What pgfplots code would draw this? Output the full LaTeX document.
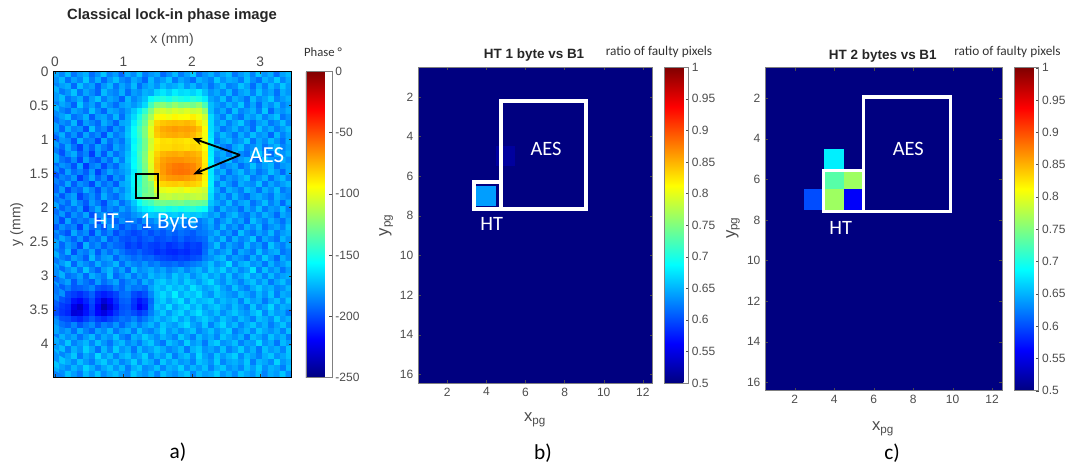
\documentclass[border=0pt]{standalone}
\usepackage{pgfplots}
\pgfplotsset{compat=1.18}
\usetikzlibrary{arrows.meta}
\usepackage{fontspec}
\setmainfont{Liberation Sans}
\newfontfamily\calibri{Carlito}
\definecolor{tl}{gray}{0.3}
\definecolor{al}{gray}{0.5}
\pgfplotsset{
  every axis title shift=0pt,
  common/.style={
    scale only axis, anchor=south west, colormap/jet, y dir=reverse,
    tick align=inside, major tick length=2.2pt,
    /pgf/number format/assume math mode=true,
    tick label style={font=\fontsize{9}{10}\selectfont, text=tl},
    label style={font=\fontsize{12.5}{14}\selectfont, text=tl},
    title style={font=\bfseries\fontsize{10.1}{12}\selectfont, text=black!85, anchor=center},
    yticklabel style={/pgf/number format/fixed},
    xtick pos=both, ytick pos=both,
    enlargelimits=false, axis on top,
  },
  cbar/.style={
    at={(parent axis.north east)}, anchor=north west,
    xshift=#1, tick align=inside, ytick pos=right, yticklabel pos=right,
    major tick length=2pt, axis line style={draw=al}, ytick style={draw=black!70},
    /pgf/number format/assume math mode=true,
    yticklabel style={font=\fontsize{9}{10}\selectfont, text=tl, xshift=-1pt,
      /pgf/number format/fixed, /pgf/number format/precision=2},
  },
}
\begin{document}
\begin{tikzpicture}
\useasboundingbox (0pt,0pt) rectangle (800.25pt,349.5pt);
\begin{axis}[common,
  at={(40pt,66.5pt)}, width=178.8pt, height=229.5pt,
  xmin=-0.025, xmax=3.46, ymin=0, ymax=4.49,
  xtick={0,1,2,3}, ytick={0,0.5,1,1.5,2,2.5,3,3.5,4},
  xticklabel pos=upper,
  axis background/.style={fill={rgb,255:red,0;green,130;blue,255}},
  axis line style={draw=black}, tick style={draw=black!80},
  tick label style={font=\fontsize{10.3}{12}\selectfont},
  title={Classical lock-in phase image},
  title style={at={(axis description cs:0.498,1.181)},font=\bfseries\fontsize{11.1}{13}\selectfont},
  xlabel={x (mm)}, ylabel={y (mm)},
  xlabel style={at={(axis description cs:0.498,1.103)},anchor=center,font=\fontsize{10.5}{12}\selectfont},
  ylabel style={at={(axis description cs:-0.1535,0.5)},anchor=center,font=\fontsize{10.5}{12}\selectfont},
  colorbar, point meta min=-250, point meta max=0,
  colorbar style={cbar=2pt, width=19.7pt, ytick={-250,-200,-150,-100,-50,0}},
]
\addplot[matrix plot*, mesh/cols=40, point meta=\thisrowno{0}] table[row sep=crcr, header=false,
  x expr={(mod(\coordindex,40)+0.5)*0.087125-0.025}, y expr={(floor(\coordindex/40)+0.5)*0.0898}] {
-178\\-186\\-172\\-190\\-181\\-175\\-192\\-183\\-170\\-187\\-180\\-194\\-176\\-185\\-171\\-189\\-182\\-177\\-193\\-184\\-173\\-188\\-179\\-169\\-191\\-182\\-175\\-186\\-178\\-172\\-190\\-181\\-174\\-187\\-170\\-183\\-176\\-192\\-179\\-173\\
-183\\-174\\-191\\-179\\-186\\-170\\-188\\-176\\-193\\-181\\-172\\-185\\-190\\-177\\-183\\-194\\-174\\-186\\-180\\-171\\-189\\-178\\-184\\-192\\-175\\-181\\-187\\-170\\-183\\-176\\-179\\-188\\-172\\-184\\-191\\-175\\-182\\-169\\-186\\-177\\
-187\\-180\\-176\\-193\\-172\\-184\\-179\\-195\\-182\\-174\\-190\\-178\\-186\\-173\\-192\\-181\\-175\\-183\\-172\\-179\\-176\\-170\\-182\\-174\\-185\\-178\\-190\\-181\\-173\\-187\\-184\\-171\\-179\\-192\\-176\\-188\\-174\\-183\\-170\\-181\\
-175\\-189\\-182\\-171\\-190\\-178\\-185\\-194\\-173\\-183\\-187\\-176\\-192\\-180\\-184\\-175\\-178\\-166\\-162\\-168\\-160\\-165\\-163\\-167\\-161\\-172\\-183\\-177\\-186\\-174\\-190\\-180\\-175\\-187\\-172\\-184\\-178\\-191\\-176\\-182\\
-181\\-172\\-190\\-184\\-176\\-193\\-180\\-171\\-188\\-178\\-183\\-195\\-174\\-186\\-179\\-172\\-155\\-150\\-148\\-152\\-146\\-150\\-153\\-147\\-151\\-160\\-178\\-184\\-172\\-189\\-176\\-182\\-191\\-173\\-185\\-179\\-170\\-187\\-181\\-175\\
-188\\-177\\-183\\-195\\-170\\-186\\-179\\-191\\-175\\-184\\-192\\-180\\-176\\-182\\-175\\-165\\-140\\-125\\-122\\-127\\-120\\-126\\-124\\-128\\-122\\-138\\-172\\-180\\-186\\-175\\-183\\-170\\-189\\-178\\-192\\-176\\-184\\-173\\-187\\-180\\
-174\\-186\\-192\\-178\\-183\\-190\\-172\\-185\\-194\\-177\\-181\\-188\\-180\\-170\\-160\\-145\\-125\\-107\\-104\\-108\\-103\\-106\\-102\\-107\\-105\\-120\\-172\\-185\\-177\\-190\\-172\\-186\\-181\\-175\\-188\\-170\\-193\\-179\\-183\\-176\\
-185\\-179\\-172\\-191\\-186\\-175\\-196\\-181\\-178\\-189\\-174\\-192\\-176\\-165\\-150\\-135\\-115\\-96\\-93\\-97\\-92\\-95\\-94\\-90\\-97\\-106\\-165\\-179\\-188\\-172\\-184\\-191\\-176\\-182\\-173\\-187\\-178\\-171\\-190\\-183\\
-191\\-183\\-188\\-174\\-197\\-180\\-186\\-193\\-176\\-184\\-195\\-178\\-175\\-160\\-145\\-130\\-105\\-84\\-80\\-78\\-77\\-78\\-76\\-79\\-88\\-100\\-165\\-182\\-174\\-187\\-178\\-170\\-185\\-192\\-180\\-175\\-189\\-183\\-172\\-186\\
-179\\-194\\-176\\-187\\-183\\-199\\-172\\-190\\-185\\-197\\-181\\-188\\-172\\-155\\-140\\-125\\-100\\-79\\-73\\-71\\-69\\-71\\-70\\-72\\-78\\-95\\-165\\-177\\-190\\-183\\-175\\-187\\-179\\-192\\-171\\-184\\-176\\-188\\-181\\-173\\
-186\\-175\\-192\\-182\\-196\\-178\\-191\\-184\\-199\\-176\\-189\\-183\\-170\\-155\\-142\\-125\\-101\\-81\\-76\\-74\\-73\\-75\\-73\\-76\\-83\\-96\\-163\\-184\\-173\\-181\\-190\\-176\\-186\\-172\\-183\\-179\\-194\\-174\\-187\\-178\\
-195\\-181\\-184\\-198\\-175\\-189\\-186\\-201\\-177\\-192\\-183\\-190\\-174\\-158\\-145\\-128\\-106\\-90\\-86\\-87\\-85\\-86\\-88\\-86\\-89\\-98\\-160\\-188\\-179\\-174\\-186\\-181\\-170\\-190\\-177\\-185\\-173\\-182\\-191\\-176\\
-180\\-193\\-177\\-190\\-202\\-183\\-195\\-179\\-188\\-196\\-178\\-186\\-176\\-155\\-143\\-128\\-104\\-88\\-85\\-85\\-83\\-84\\-86\\-83\\-85\\-95\\-162\\-175\\-186\\-192\\-178\\-172\\-188\\-183\\-176\\-190\\-181\\-174\\-186\\-179\\
-188\\-199\\-183\\-176\\-194\\-186\\-204\\-181\\-197\\-178\\-192\\-184\\-172\\-158\\-140\\-125\\-100\\-83\\-76\\-74\\-73\\-75\\-72\\-74\\-77\\-90\\-160\\-181\\-176\\-188\\-173\\-185\\-191\\-178\\-170\\-184\\-192\\-177\\-183\\-175\\
-176\\-190\\-196\\-184\\-201\\-179\\-192\\-198\\-183\\-193\\-175\\-188\\-170\\-157\\-142\\-124\\-100\\-79\\-71\\-68\\-67\\-67\\-69\\-70\\-73\\-90\\-158\\-186\\-179\\-172\\-189\\-181\\-175\\-187\\-193\\-172\\-180\\-186\\-176\\-184\\
-193\\-182\\-187\\-199\\-178\\-205\\-188\\-183\\-200\\-186\\-194\\-179\\-174\\-156\\-143\\-126\\-102\\-77\\-69\\-64\\-61\\-60\\-62\\-64\\-71\\-88\\-160\\-174\\-188\\-182\\-177\\-192\\-184\\-171\\-186\\-179\\-174\\-190\\-182\\-178\\
-184\\-197\\-179\\-192\\-186\\-196\\-181\\-203\\-189\\-178\\-187\\-182\\-176\\-160\\-145\\-128\\-104\\-79\\-69\\-63\\-60\\-59\\-60\\-63\\-71\\-90\\-162\\-183\\-175\\-191\\-180\\-173\\-186\\-178\\-190\\-184\\-172\\-181\\-193\\-177\\
-199\\-186\\-191\\-181\\-204\\-190\\-177\\-194\\-184\\-200\\-182\\-189\\-172\\-158\\-148\\-130\\-110\\-85\\-73\\-69\\-68\\-67\\-69\\-72\\-77\\-92\\-161\\-176\\-190\\-180\\-186\\-178\\-171\\-189\\-183\\-175\\-191\\-179\\-173\\-187\\
-187\\-193\\-178\\-196\\-183\\-189\\-201\\-180\\-192\\-185\\-197\\-178\\-174\\-158\\-146\\-130\\-122\\-92\\-84\\-82\\-81\\-83\\-80\\-82\\-85\\-96\\-160\\-187\\-174\\-183\\-192\\-176\\-182\\-185\\-172\\-190\\-178\\-186\\-180\\-174\\
-194\\-180\\-200\\-188\\-193\\-176\\-186\\-199\\-182\\-190\\-178\\-186\\-175\\-160\\-143\\-132\\-124\\-102\\-100\\-98\\-99\\-101\\-97\\-100\\-102\\-106\\-162\\-178\\-191\\-175\\-181\\-188\\-173\\-179\\-191\\-176\\-184\\-172\\-189\\-183\\
-182\\-198\\-185\\-179\\-202\\-191\\-183\\-195\\-176\\-188\\-193\\-181\\-172\\-162\\-146\\-128\\-126\\-112\\-110\\-108\\-111\\-109\\-112\\-110\\-108\\-112\\-165\\-184\\-177\\-189\\-174\\-186\\-192\\-180\\-176\\-183\\-190\\-175\\-181\\-186\\
-190\\-184\\-193\\-176\\-187\\-197\\-180\\-189\\-200\\-183\\-177\\-192\\-182\\-170\\-155\\-145\\-140\\-131\\-128\\-130\\-129\\-127\\-132\\-128\\-130\\-133\\-170\\-178\\-186\\-173\\-188\\-179\\-175\\-191\\-183\\-172\\-187\\-178\\-193\\-176\\
-178\\-195\\-186\\-192\\-181\\-203\\-188\\-176\\-194\\-185\\-191\\-179\\-187\\-176\\-166\\-160\\-156\\-150\\-148\\-152\\-149\\-153\\-150\\-147\\-151\\-155\\-176\\-190\\-175\\-184\\-181\\-192\\-177\\-186\\-173\\-189\\-180\\-184\\-172\\-188\\
-192\\-181\\-197\\-183\\-190\\-178\\-199\\-186\\-182\\-196\\-180\\-188\\-190\\-183\\-178\\-172\\-169\\-171\\-166\\-170\\-168\\-172\\-167\\-171\\-169\\-174\\-182\\-176\\-189\\-179\\-173\\-185\\-190\\-178\\-187\\-175\\-182\\-193\\-177\\-183\\
-185\\-200\\-178\\-194\\-187\\-192\\-182\\-201\\-176\\-189\\-195\\-184\\-192\\-187\\-194\\-182\\-186\\-179\\-188\\-176\\-184\\-180\\-186\\-177\\-189\\-183\\-175\\-191\\-182\\-174\\-186\\-179\\-193\\-172\\-181\\-188\\-176\\-184\\-191\\-178\\
-197\\-183\\-191\\-186\\-203\\-179\\-193\\-188\\-198\\-181\\-187\\-199\\-190\\-195\\-186\\-198\\-191\\-188\\-193\\-185\\-190\\-187\\-192\\-184\\-191\\-186\\-178\\-189\\-173\\-187\\-180\\-191\\-176\\-185\\-174\\-192\\-183\\-178\\-187\\-172\\
-183\\-192\\-199\\-177\\-190\\-184\\-201\\-180\\-194\\-186\\-200\\-192\\-197\\-202\\-199\\-193\\-200\\-194\\-198\\-192\\-196\\-191\\-194\\-197\\-190\\-188\\-183\\-175\\-188\\-181\\-193\\-172\\-184\\-190\\-179\\-186\\-174\\-189\\-181\\-176\\
-190\\-177\\-186\\-195\\-182\\-198\\-187\\-192\\-178\\-197\\-189\\-198\\-200\\-196\\-202\\-197\\-194\\-201\\-199\\-196\\-200\\-194\\-200\\-198\\-195\\-192\\-178\\-186\\-173\\-191\\-176\\-187\\-182\\-170\\-193\\-178\\-185\\-191\\-174\\-183\\
-179\\-194\\-181\\-188\\-201\\-175\\-190\\-184\\-196\\-187\\-193\\-195\\-204\\-200\\-205\\-199\\-203\\-205\\-201\\-207\\-204\\-200\\-206\\-202\\-204\\-194\\-184\\-172\\-189\\-178\\-185\\-190\\-174\\-186\\-180\\-192\\-171\\-182\\-188\\-177\\
-186\\-191\\-175\\-199\\-184\\-189\\-178\\-197\\-183\\-192\\-182\\-190\\-197\\-199\\-194\\-200\\-202\\-208\\-205\\-209\\-210\\-207\\-209\\-204\\-205\\-192\\-178\\-187\\-181\\-174\\-192\\-177\\-183\\-189\\-172\\-186\\-179\\-175\\-190\\-184\\
-175\\-188\\-193\\-180\\-186\\-196\\-173\\-190\\-181\\-178\\-195\\-184\\-188\\-193\\-189\\-195\\-193\\-199\\-201\\-203\\-205\\-202\\-204\\-200\\-198\\-188\\-183\\-176\\-172\\-188\\-179\\-184\\-191\\-175\\-187\\-170\\-182\\-193\\-176\\-185\\
-189\\-181\\-172\\-194\\-178\\-185\\-191\\-176\\-187\\-183\\-174\\-192\\-180\\-186\\-189\\-182\\-190\\-186\\-193\\-194\\-191\\-196\\-192\\-189\\-186\\-180\\-172\\-184\\-179\\-165\\-187\\-176\\-172\\-183\\-178\\-190\\-175\\-186\\-181\\-173\\
-178\\-193\\-184\\-176\\-190\\-171\\-186\\-195\\-180\\-174\\-188\\-179\\-194\\-173\\-185\\-181\\-176\\-184\\-178\\-187\\-182\\-176\\-186\\-179\\-174\\-183\\-170\\-177\\-168\\-182\\-174\\-185\\-179\\-163\\-188\\-172\\-184\\-177\\-190\\-180\\
-184\\-175\\-191\\-187\\-179\\-194\\-176\\-183\\-189\\-172\\-193\\-185\\-177\\-190\\-180\\-186\\-173\\-179\\-175\\-182\\-170\\-178\\-172\\-184\\-176\\-169\\-180\\-174\\-183\\-171\\-186\\-178\\-170\\-181\\-175\\-187\\-173\\-185\\-179\\-176\\
-192\\-186\\-179\\-197\\-183\\-190\\-196\\-180\\-192\\-185\\-178\\-194\\-186\\-181\\-191\\-176\\-184\\-172\\-168\\-176\\-171\\-179\\-168\\-174\\-181\\-172\\-165\\-178\\-184\\-173\\-179\\-187\\-176\\-171\\-183\\-174\\-189\\-178\\-172\\-184\\
-181\\-196\\-188\\-197\\-195\\-191\\-185\\-198\\-200\\-197\\-187\\-194\\-183\\-190\\-188\\-193\\-179\\-170\\-175\\-166\\-174\\-169\\-177\\-163\\-172\\-180\\-175\\-168\\-179\\-186\\-171\\-182\\-188\\-177\\-169\\-180\\-175\\-186\\-183\\-174\\
-190\\-183\\-200\\-204\\-208\\-202\\-195\\-208\\-212\\-208\\-202\\-192\\-190\\-200\\-204\\-199\\-186\\-172\\-165\\-173\\-160\\-176\\-168\\-172\\-164\\-177\\-183\\-170\\-176\\-181\\-185\\-173\\-179\\-186\\-174\\-183\\-171\\-188\\-176\\-180\\
-186\\-198\\-203\\-214\\-218\\-210\\-200\\-214\\-228\\-218\\-207\\-196\\-194\\-205\\-214\\-208\\-193\\-174\\-168\\-178\\-170\\-163\\-180\\-167\\-175\\-172\\-168\\-181\\-173\\-178\\-174\\-187\\-171\\-180\\-176\\-189\\-178\\-172\\-184\\-170\\
-196\\-204\\-208\\-224\\-232\\-216\\-203\\-220\\-238\\-226\\-212\\-199\\-197\\-207\\-220\\-212\\-190\\-170\\-176\\-164\\-179\\-171\\-165\\-176\\-168\\-181\\-174\\-169\\-177\\-183\\-172\\-181\\-188\\-170\\-185\\-178\\-166\\-183\\-175\\-179\\
-200\\-206\\-210\\-228\\-226\\-214\\-205\\-218\\-226\\-216\\-206\\-198\\-195\\-200\\-206\\-200\\-188\\-177\\-169\\-181\\-172\\-166\\-178\\-170\\-163\\-175\\-180\\-172\\-184\\-176\\-170\\-178\\-183\\-174\\-167\\-186\\-172\\-181\\-178\\-190\\
-188\\-199\\-200\\-206\\-210\\-203\\-196\\-204\\-208\\-202\\-197\\-190\\-193\\-186\\-196\\-189\\-181\\-173\\-180\\-174\\-167\\-179\\-171\\-182\\-174\\-168\\-176\\-183\\-171\\-178\\-185\\-173\\-179\\-187\\-172\\-176\\-184\\-169\\-181\\-175\\
-183\\-191\\-195\\-186\\-198\\-190\\-184\\-197\\-187\\-192\\-182\\-194\\-185\\-178\\-188\\-180\\-174\\-184\\-170\\-177\\-181\\-172\\-165\\-178\\-183\\-170\\-187\\-175\\-166\\-180\\-173\\-186\\-177\\-170\\-182\\-175\\-188\\-179\\-171\\-184\\
-178\\-186\\-180\\-192\\-176\\-187\\-194\\-179\\-185\\-174\\-190\\-181\\-176\\-189\\-172\\-183\\-187\\-178\\-168\\-182\\-175\\-184\\-177\\-171\\-186\\-179\\-172\\-183\\-176\\-169\\-188\\-181\\-174\\-185\\-170\\-178\\-183\\-176\\-187\\-172\\
-189\\-175\\-184\\-178\\-191\\-181\\-173\\-188\\-177\\-183\\-171\\-186\\-192\\-175\\-181\\-169\\-178\\-185\\-174\\-180\\-187\\-170\\-179\\-188\\-173\\-182\\-176\\-186\\-170\\-177\\-183\\-175\\-190\\-172\\-178\\-186\\-171\\-181\\-175\\-188\\
-176\\-184\\-170\\-187\\-180\\-174\\-186\\-172\\-182\\-190\\-178\\-173\\-185\\-179\\-188\\-176\\-170\\-183\\-190\\-172\\-178\\-185\\-168\\-181\\-176\\-189\\-174\\-168\\-183\\-179\\-172\\-187\\-178\\-181\\-166\\-183\\-177\\-190\\-173\\-180\\
-181\\-172\\-188\\-175\\-183\\-168\\-178\\-191\\-174\\-186\\-169\\-182\\-176\\-190\\-173\\-184\\-179\\-171\\-177\\-186\\-181\\-173\\-189\\-175\\-170\\-183\\-178\\-185\\-172\\-187\\-180\\-169\\-184\\-175\\-189\\-172\\-181\\-176\\-186\\-170\\
-174\\-186\\-179\\-170\\-189\\-177\\-184\\-166\\-181\\-173\\-187\\-176\\-171\\-183\\-178\\-168\\-186\\-175\\-182\\-170\\-188\\-177\\-172\\-184\\-166\\-179\\-186\\-171\\-181\\-174\\-168\\-185\\-173\\-179\\-187\\-176\\-170\\-183\\-178\\-171\\
-183\\-170\\-177\\-185\\-172\\-181\\-188\\-175\\-169\\-182\\-174\\-186\\-179\\-168\\-184\\-172\\-177\\-189\\-170\\-180\\-173\\-182\\-178\\-187\\-171\\-176\\-183\\-169\\-186\\-178\\-175\\-181\\-170\\-188\\-174\\-178\\-185\\-167\\-182\\-176\\
-170\\-179\\-185\\-174\\-182\\-167\\-176\\-187\\-178\\-171\\-183\\-173\\-188\\-176\\-170\\-185\\-181\\-172\\-186\\-175\\-179\\-168\\-184\\-174\\-181\\-172\\-187\\-176\\-170\\-183\\-178\\-186\\-172\\-180\\-169\\-184\\-175\\-179\\-188\\-173\\
-176\\-184\\-171\\-180\\-188\\-173\\-182\\-170\\-185\\-177\\-172\\-181\\-186\\-169\\-178\\-183\\-174\\-187\\-171\\-179\\-184\\-176\\-170\\-186\\-173\\-180\\-177\\-168\\-182\\-175\\-185\\-171\\-178\\-183\\-172\\-187\\-176\\-181\\-170\\-184\\
};
\end{axis}
\begin{axis}[common,
  at={(313.5pt,62.25pt)}, width=175.9pt, height=236.8pt,
  xmin=0.5, xmax=12.5, ymin=0.5, ymax=16.44,
  xtick={2,4,...,12}, ytick={2,4,...,16},
  axis background/.style={fill={rgb,255:red,0;green,0;blue,128}},
  axis line style={draw=al}, tick style={draw=black!70},
  title={HT 1 byte vs B1},
  title style={at={(axis description cs:0.495,1.039)}},
  xlabel={x\textsubscript{pg}}, ylabel={y\textsubscript{pg}},
  xlabel style={at={(axis description cs:0.499,-0.117)},anchor=center},
  ylabel style={at={(axis description cs:-0.136,0.5)},anchor=center},
  colorbar, point meta min=0.5, point meta max=1,
  colorbar style={cbar=0.4pt, width=18pt, ytick={0.5,0.55,0.6,0.65,0.7,0.75,0.8,0.85,0.9,0.95,1}},
]
\addplot[matrix plot*, mesh/cols=12, point meta=\thisrowno{0}] table[row sep=crcr, header=false,
  x expr={mod(\coordindex,12)+1}, y expr={floor(\coordindex/12)+1}] {
0.5\\0.5\\0.5\\0.5\\0.5\\0.5\\0.5\\0.5\\0.5\\0.5\\0.5\\0.5\\
0.5\\0.5\\0.5\\0.5\\0.5\\0.5\\0.5\\0.5\\0.5\\0.5\\0.5\\0.5\\
0.5\\0.5\\0.5\\0.5\\0.5\\0.5\\0.5\\0.5\\0.5\\0.5\\0.5\\0.5\\
0.5\\0.5\\0.5\\0.5\\0.5\\0.5\\0.5\\0.5\\0.5\\0.5\\0.5\\0.5\\
0.5\\0.5\\0.5\\0.5\\0.515\\0.5\\0.5\\0.5\\0.5\\0.5\\0.5\\0.5\\
0.5\\0.5\\0.5\\0.5\\0.5\\0.5\\0.5\\0.5\\0.5\\0.5\\0.5\\0.5\\
0.5\\0.5\\0.5\\0.64\\0.5\\0.5\\0.5\\0.5\\0.5\\0.5\\0.5\\0.5\\
0.5\\0.5\\0.5\\0.5\\0.5\\0.5\\0.5\\0.5\\0.5\\0.5\\0.5\\0.5\\
0.5\\0.5\\0.5\\0.5\\0.5\\0.5\\0.5\\0.5\\0.5\\0.5\\0.5\\0.5\\
0.5\\0.5\\0.5\\0.5\\0.5\\0.5\\0.5\\0.5\\0.5\\0.5\\0.5\\0.5\\
0.5\\0.5\\0.5\\0.5\\0.5\\0.5\\0.5\\0.5\\0.5\\0.5\\0.5\\0.5\\
0.5\\0.5\\0.5\\0.5\\0.5\\0.5\\0.5\\0.5\\0.5\\0.5\\0.5\\0.5\\
0.5\\0.5\\0.5\\0.5\\0.5\\0.5\\0.5\\0.5\\0.5\\0.5\\0.5\\0.5\\
0.5\\0.5\\0.5\\0.5\\0.5\\0.5\\0.5\\0.5\\0.5\\0.5\\0.5\\0.5\\
0.5\\0.5\\0.5\\0.5\\0.5\\0.5\\0.5\\0.5\\0.5\\0.5\\0.5\\0.5\\
0.5\\0.5\\0.5\\0.5\\0.5\\0.5\\0.5\\0.5\\0.5\\0.5\\0.5\\0.5\\
};
\end{axis}
\begin{axis}[common,
  at={(573.8pt,56.5pt)}, width=177.7pt, height=242.25pt,
  xmin=0.5, xmax=12.5, ymin=0.5, ymax=16.41,
  xtick={2,4,...,12}, ytick={2,4,...,16},
  axis background/.style={fill={rgb,255:red,0;green,0;blue,128}},
  axis line style={draw=al}, tick style={draw=black!70},
  title={HT 2 bytes vs B1},
  title style={at={(axis description cs:0.497,1.036)}},
  xlabel={x\textsubscript{pg}}, ylabel={y\textsubscript{pg}},
  xlabel style={at={(axis description cs:0.498,-0.1186)},anchor=center},
  ylabel style={at={(axis description cs:-0.135,0.504)},anchor=center},
  colorbar, point meta min=0.5, point meta max=1,
  colorbar style={cbar=0.8pt, width=18.2pt, ytick={0.5,0.55,0.6,0.65,0.7,0.75,0.8,0.85,0.9,0.95,1}},
]
\addplot[matrix plot*, mesh/cols=12, point meta=\thisrowno{0}] table[row sep=crcr, header=false,
  x expr={mod(\coordindex,12)+1}, y expr={floor(\coordindex/12)+1}] {
0.5\\0.5\\0.5\\0.5\\0.5\\0.5\\0.5\\0.5\\0.5\\0.5\\0.5\\0.5\\
0.5\\0.5\\0.5\\0.5\\0.5\\0.5\\0.5\\0.5\\0.5\\0.5\\0.5\\0.5\\
0.5\\0.5\\0.5\\0.5\\0.5\\0.5\\0.5\\0.5\\0.5\\0.5\\0.5\\0.5\\
0.5\\0.5\\0.5\\0.5\\0.5\\0.5\\0.5\\0.5\\0.5\\0.5\\0.5\\0.5\\
0.5\\0.5\\0.5\\0.68\\0.5\\0.5\\0.5\\0.5\\0.5\\0.5\\0.5\\0.5\\
0.5\\0.5\\0.5\\0.73\\0.765\\0.5\\0.5\\0.5\\0.5\\0.5\\0.5\\0.5\\
0.5\\0.5\\0.6\\0.765\\0.56\\0.5\\0.5\\0.5\\0.5\\0.5\\0.5\\0.5\\
0.5\\0.5\\0.5\\0.5\\0.5\\0.5\\0.5\\0.5\\0.5\\0.5\\0.5\\0.5\\
0.5\\0.5\\0.5\\0.5\\0.5\\0.5\\0.5\\0.5\\0.5\\0.5\\0.5\\0.5\\
0.5\\0.5\\0.5\\0.5\\0.5\\0.5\\0.5\\0.5\\0.5\\0.5\\0.5\\0.5\\
0.5\\0.5\\0.5\\0.5\\0.5\\0.5\\0.5\\0.5\\0.5\\0.5\\0.5\\0.5\\
0.5\\0.5\\0.5\\0.5\\0.5\\0.5\\0.5\\0.5\\0.5\\0.5\\0.5\\0.5\\
0.5\\0.5\\0.5\\0.5\\0.5\\0.5\\0.5\\0.5\\0.5\\0.5\\0.5\\0.5\\
0.5\\0.5\\0.5\\0.5\\0.5\\0.5\\0.5\\0.5\\0.5\\0.5\\0.5\\0.5\\
0.5\\0.5\\0.5\\0.5\\0.5\\0.5\\0.5\\0.5\\0.5\\0.5\\0.5\\0.5\\
0.5\\0.5\\0.5\\0.5\\0.5\\0.5\\0.5\\0.5\\0.5\\0.5\\0.5\\0.5\\
};
\end{axis}
\begin{scope}[x=0.75pt,y=-0.75pt,yshift=349.5pt]
% panel a annotations
\draw[black,line width=1.4pt] (135.7,174.3) rectangle (158,197.7);
\draw[black,line width=1.4pt,-{Stealth[length=7pt,width=5.5pt]}] (240,155) -- (192.7,138.3);
\draw[black,line width=1.4pt,-{Stealth[length=7pt,width=5.5pt]}] (240,155) -- (193.3,174.3);
\node[white,font=\calibri\fontsize{17.2}{19}\selectfont] at (266.7,155) {AES};
\node[white,font=\calibri\fontsize{17.2}{19}\selectfont] at (146,222.7) {HT – 1 Byte};
\node[text=black!80,font=\calibri\fontsize{9.5}{11}\selectfont] at (323,52) {Phase °};
\node[black,font=\calibri\fontsize{16}{18}\selectfont] at (178,452) {a)};
% panel b annotations
\draw[white,line width=3pt] (501.3,101.3) rectangle (585.7,209.3);
\draw[white,line width=3pt] (474,182) rectangle (501.3,209.3);
\node[white,font=\calibri\fontsize{15.3}{17}\selectfont] at (546,149.3) {AES};
\node[white,font=\calibri\fontsize{15.3}{17}\selectfont] at (491.7,224) {HT};
\node[text=black!80,font=\calibri\fontsize{10}{12}\selectfont] at (659,52) {ratio of faulty pixels};
\node[black,font=\calibri\fontsize{16}{18}\selectfont] at (543,453) {b)};
% panel c annotations
\draw[white,line width=2.5pt] (863.7,97) rectangle (950.7,211.7);
\draw[white,line width=2.5pt] (823.7,170.3) rectangle (863.7,211.7);
\node[white,font=\calibri\fontsize{15.3}{17}\selectfont] at (908.3,149.3) {AES};
\node[white,font=\calibri\fontsize{15.3}{17}\selectfont] at (840.7,227.7) {HT};
\node[text=black!80,font=\calibri\fontsize{10}{12}\selectfont] at (1007.5,52) {ratio of faulty pixels};
\node[black,font=\calibri\fontsize{16}{18}\selectfont] at (892,453) {c)};
\end{scope}
\end{tikzpicture}
\end{document}
